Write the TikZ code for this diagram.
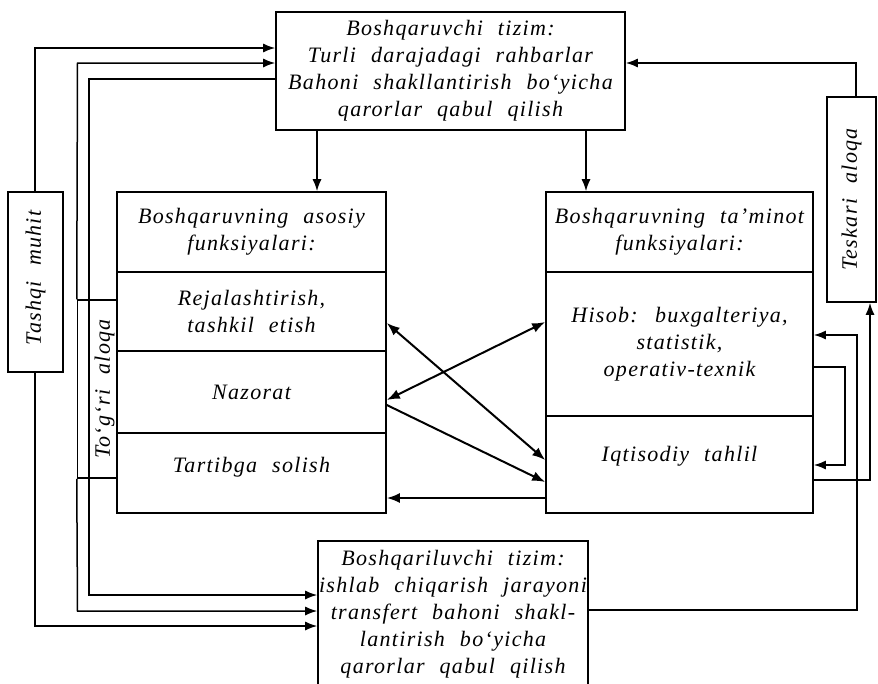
\documentclass[tikz,border=0pt]{standalone}
\usepackage{fontspec}
\setmainfont{Liberation Serif}[LetterSpace=6,WordSpace=2.2]
\usetikzlibrary{arrows.meta}
\begin{document}
\begin{tikzpicture}[x=1pt,y=-1pt,
  box/.style={draw, line width=1.6pt, inner sep=0pt, align=center},
  txt/.style={font=\fontsize{22}{27}\selectfont\itshape, align=center, inner sep=0pt},
  ln/.style={line width=1.5pt},
  arr/.style={ln, -{Latex[length=12pt,width=9pt]}},
  arrb/.style={line width=2pt, -{Latex[length=13pt,width=10pt]}},
  darr/.style={line width=2pt, {Latex[length=13pt,width=10pt]}-{Latex[length=13pt,width=10pt]}},
]
\useasboundingbox (0,0) rectangle (878,683);
\fill[white] (0,0) rectangle (878,683);

% boxes
\node[box,txt,minimum width=349pt,minimum height=118pt] (top) at (450.5,71)
  {Boshqaruvchi tizim:\\Turli darajadagi rahbarlar\\Bahoni shakllantirish bo‘yicha\\qarorlar qabul qilish};

\node[box,txt,minimum width=269pt,minimum height=80pt] (L0) at (251.5,232) {Boshqaruvning asosiy\\funksiyalari:};
\node[box,txt,minimum width=269pt,minimum height=79pt] (L1) at (251.5,311.5) {Rejalashtirish,\\tashkil etish};
\node[box,txt,minimum width=269pt,minimum height=82pt] (L2) at (251.5,392) {Nazorat};
\node[box,txt,minimum width=269pt,minimum height=80pt,text depth=16pt] (L3) at (251.5,473) {Tartibga solish};

\node[box,txt,minimum width=267pt,minimum height=80pt] (R0) at (679.5,232) {Boshqaruvning ta’minot\\funksiyalari:};
\node[box,txt,minimum width=267pt,minimum height=144pt] (R1) at (679.5,344) {Hisob: buxgalteriya,\\statistik,\\operativ-texnik};
\node[box,txt,minimum width=267pt,minimum height=97pt,text depth=22pt] (R2) at (679.5,464.5) {Iqtisodiy tahlil};

\node[box,txt,minimum width=270pt,minimum height=146pt] (bot) at (453,614)
  {Boshqariluvchi tizim:\\ishlab chiqarish jarayoni\\transfert bahoni shakl-\\lantirish bo‘yicha\\qarorlar qabul qilish};

\node[box,minimum width=55pt,minimum height=180pt] (tash) at (35.5,282) {};
\node[txt,rotate=90] (tashT) at ([yshift=4pt]tash.center) {Tashqi muhit};

\node[box,line width=1.5pt,minimum width=40pt,minimum height=178pt] (togri) at (97.5,389) {};

\node[box,minimum width=49pt,minimum height=205pt] (tesk) at (851.5,199.5) {};
\node[txt,rotate=90] (teskT) at (tesk.center) {Teskari aloqa};

% connectors
\draw[arr] (317,0 |- top.south) -- (317,0 |- L0.north);
\draw[arr] (586,0 |- top.south) -- (586,0 |- R0.north);
\draw[arr] (856,0 |- tesk.north) -- (856,63) -- (top.east |- 0,63);

\draw[arr] (35,0 |- tash.north) -- (35,48) -- (top.west |- 0,48);
\draw[arr] (35,0 |- tash.south) -- (35,626) -- (bot.west |- 0,626);
\draw[arr] (togri.north west) -- (77.5,63) -- (top.west |- 0,63);
\draw[arr] (togri.south west) -- (77.5,611) -- (bot.west |- 0,611);
\draw[arr] (top.west |- 0,79) -- (89,79) -- (89,595) -- (bot.west |- 0,595);

\node[txt,rotate=90] (togriT) at ([xshift=7pt]togri.center) {To‘g‘ri aloqa};

\draw[darr] (L1.east |- 0,323) -- (R2.west |- 0,460);
\draw[darr] (L2.east |- 0,400) -- (R1.west |- 0,322);
\draw[arrb] (L2.east |- 0,405) -- (R2.west |- 0,482);
\draw[arrb] (R2.west |- 0,498) -- (L3.east |- 0,498);

\draw[arr] (R1.east |- 0,367) -- (845,367) -- (845,465) -- (R2.east |- 0,465);
\draw[arr] (R2.east |- 0,480) -- (870,480) -- (870,0 |- tesk.south);
\draw[arr] (bot.east |- 0,610) -- (857,610) -- (857,335) -- (R1.east |- 0,335);
\end{tikzpicture}
\end{document}
